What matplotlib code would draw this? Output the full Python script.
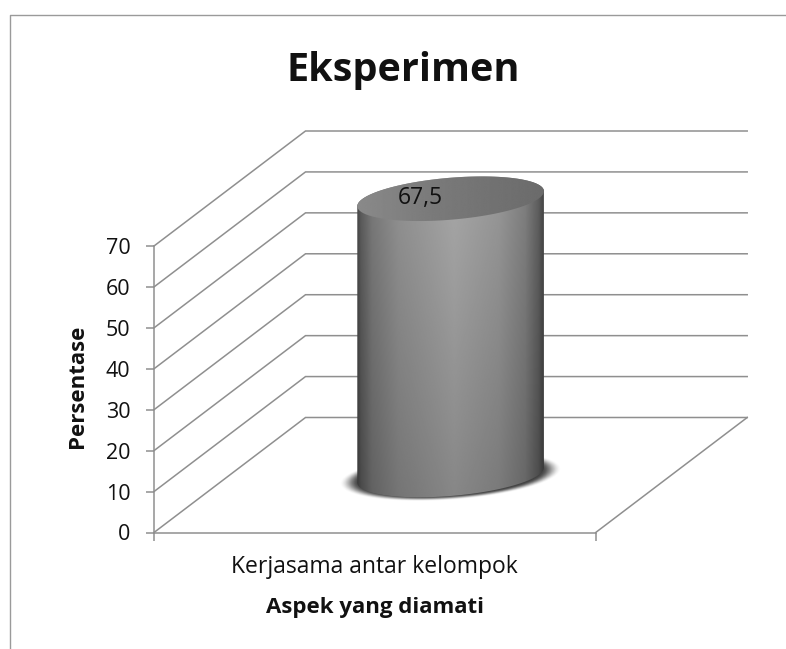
import numpy as np
import matplotlib
matplotlib.use("Agg")
import matplotlib.pyplot as plt
from matplotlib.lines import Line2D
from matplotlib.path import Path
from matplotlib.patches import PathPatch

plt.rcParams['font.family'] = ['Open Sans', 'DejaVu Sans']

# ---- data ----
categories = ["Kerjasama antar kelompok"]
values = [67.5]
value_labels = ["67,5"]
y_ticks = [0, 10, 20, 30, 40, 50, 60, 70]
title = "Eksperimen"
x_label = "Aspek yang diamati"
y_label = "Persentase"

# ---- layout ----
W, H = 786, 649
fig = plt.figure(figsize=(W / 100, H / 100), dpi=100, facecolor="white")
L, R, B, T = 154.0, 595.7, 532.5, 246.0
ax = fig.add_axes([L / W, 1 - B / H, (R - L) / W, (B - T) / H])
ax.patch.set_alpha(0)
PX = R - L              # px per x unit
PY = (B - T) / 70.0     # px per y unit
DX = 151.5 / PX         # depth offset in data units
DY = 115.0 / PY
GRID = "#8f8f8f"
LW = 1.1

# walls and floor
for v in y_ticks:
    ax.plot([0, DX, 1 + DX], [v, v + DY, v + DY], color=GRID, lw=LW,
            clip_on=False, zorder=1, solid_joinstyle="miter")
ax.plot([1, 1 + DX], [0, DY], color=GRID, lw=LW, clip_on=False, zorder=1)

# cylinder geometry
cx = 0.5 + DX / 2
base = DY / 2
hw = 93.3 / PX
bb = 21.0 / PY
ss = 7.5 / PY
val = values[0]
t = np.linspace(0, 2 * np.pi, 361)


def ell(y0, scale=1.0):
    return cx + scale * hw * np.cos(t), y0 + scale * (bb * np.sin(t) + ss * np.cos(t))


# shadow
sx = np.linspace(cx - 1.3 * hw, cx + 1.3 * hw, 300)
sy = np.linspace(base - 45 / PY, base + 45 / PY, 200)
XX, YY = np.meshgrid(sx, sy)
uu = (XX - cx) / (1.19 * hw)
vv = (YY - (base - 1.0 / PY) - 7.5 / PY * uu) / (24.0 / PY)
rr = np.sqrt(uu ** 2 + vv ** 2)
a = np.clip((1 - rr) / 0.18, 0, 1)
a = a * a * (3 - 2 * a) * 0.9
rgba = np.zeros(a.shape + (4,))
rgba[..., :3] = 0.18
rgba[..., 3] = a
ax.imshow(rgba, extent=[sx[0], sx[-1], sy[0], sy[-1]], origin="lower", aspect="auto",
          zorder=2, clip_on=False, interpolation="bilinear")

# cylinder body
ex_t, ey_t = ell(base + val)
lower = t[(t >= np.pi) & (t <= 2 * np.pi)]
bx = cx + hw * np.cos(lower)
by = base + bb * np.sin(lower) + ss * np.cos(lower)
upper = t[t <= np.pi]
tx = cx + hw * np.cos(upper)
ty = base + val + bb * np.sin(upper) + ss * np.cos(upper)
poly = np.column_stack([np.r_[bx, tx], np.r_[by, ty]])
body_clip = PathPatch(Path(np.r_[poly, poly[:1]], closed=True), transform=ax.transData,
                      fc="none", ec="none", clip_on=False)
ax.add_patch(body_clip)

gx = np.linspace(0, 1, 400)
prof = np.interp(gx, [0, 0.02, 0.08, 0.22, 0.52, 0.76, 0.90, 0.97, 1.0],
                 [70, 92, 122, 146, 168, 152, 128, 96, 70]) / 255
gy = np.linspace(0, 1, 200)
vert = np.interp(gy, [0, 0.25, 1], [0.80, 0.85, 1.0])
img = np.outer(vert, prof)
im = ax.imshow(img, extent=[cx - hw, cx + hw, base - 26 / PY, base + val + 26 / PY],
               origin="lower", aspect="auto", cmap="gray", vmin=0, vmax=1, zorder=3,
               interpolation="bilinear")
im.set_clip_box(fig.bbox)
im.set_clip_path(body_clip)

# cylinder top
top_clip = PathPatch(Path(np.column_stack([ex_t, ey_t]), closed=True), transform=ax.transData,
                     fc="none", ec="none", clip_on=False)
ax.add_patch(top_clip)
top_img = np.interp(gx, [0, 0.4, 1], [0.54, 0.48, 0.42])[None, :].repeat(2, axis=0)
im2 = ax.imshow(top_img, extent=[cx - hw, cx + hw, base + val - 26 / PY, base + val + 26 / PY],
                origin="lower", aspect="auto", cmap="gray", vmin=0, vmax=1, zorder=4,
                interpolation="bilinear")
im2.set_clip_box(fig.bbox)
im2.set_clip_path(top_clip)

ax.text(cx - 30 / PX, base + val + 0.5 / PY, value_labels[0], ha="center", va="center",
        fontsize=16.5, color="#111111", zorder=5, clip_on=False)

# scales and axes
ax.set_xlim(0, 1)
ax.set_ylim(0, 70)
for s in ("top", "right"):
    ax.spines[s].set_visible(False)
for s in ("left", "bottom"):
    ax.spines[s].set_color(GRID)
    ax.spines[s].set_linewidth(LW)
ax.set_yticks(y_ticks)
ax.set_xticks([0.5])
ax.set_xticklabels(categories)
ax.set_xticks([0, 1], minor=True)
ax.tick_params(axis="x", which="major", length=0, pad=16.5, labelsize=16.5, labelcolor="#111111")
ax.tick_params(axis="x", which="minor", length=5.5, width=LW, color=GRID)
ax.tick_params(axis="y", length=6, width=LW, color=GRID, pad=11, labelsize=15.5, labelcolor="#111111")
ax.set_xlabel(x_label, fontsize=16, fontweight="bold", labelpad=13, color="#111111")
ax.set_ylabel(y_label, fontsize=16, fontweight="bold", labelpad=13, color="#111111", y=0.51)

fig.text(403 / W, 1 - 70 / H, title, ha="center", va="center", fontsize=28.5,
         fontweight="bold", color="#111111")

# outer chart frame (cropped by the image)
fig.add_artist(Line2D([9.5 / W, 9.5 / W, 1], [0, 1 - 14.5 / H, 1 - 14.5 / H],
                      color="#9a9a9a", lw=1.0, transform=fig.transFigure))

fig.savefig("out.png", dpi=100, facecolor="white")
